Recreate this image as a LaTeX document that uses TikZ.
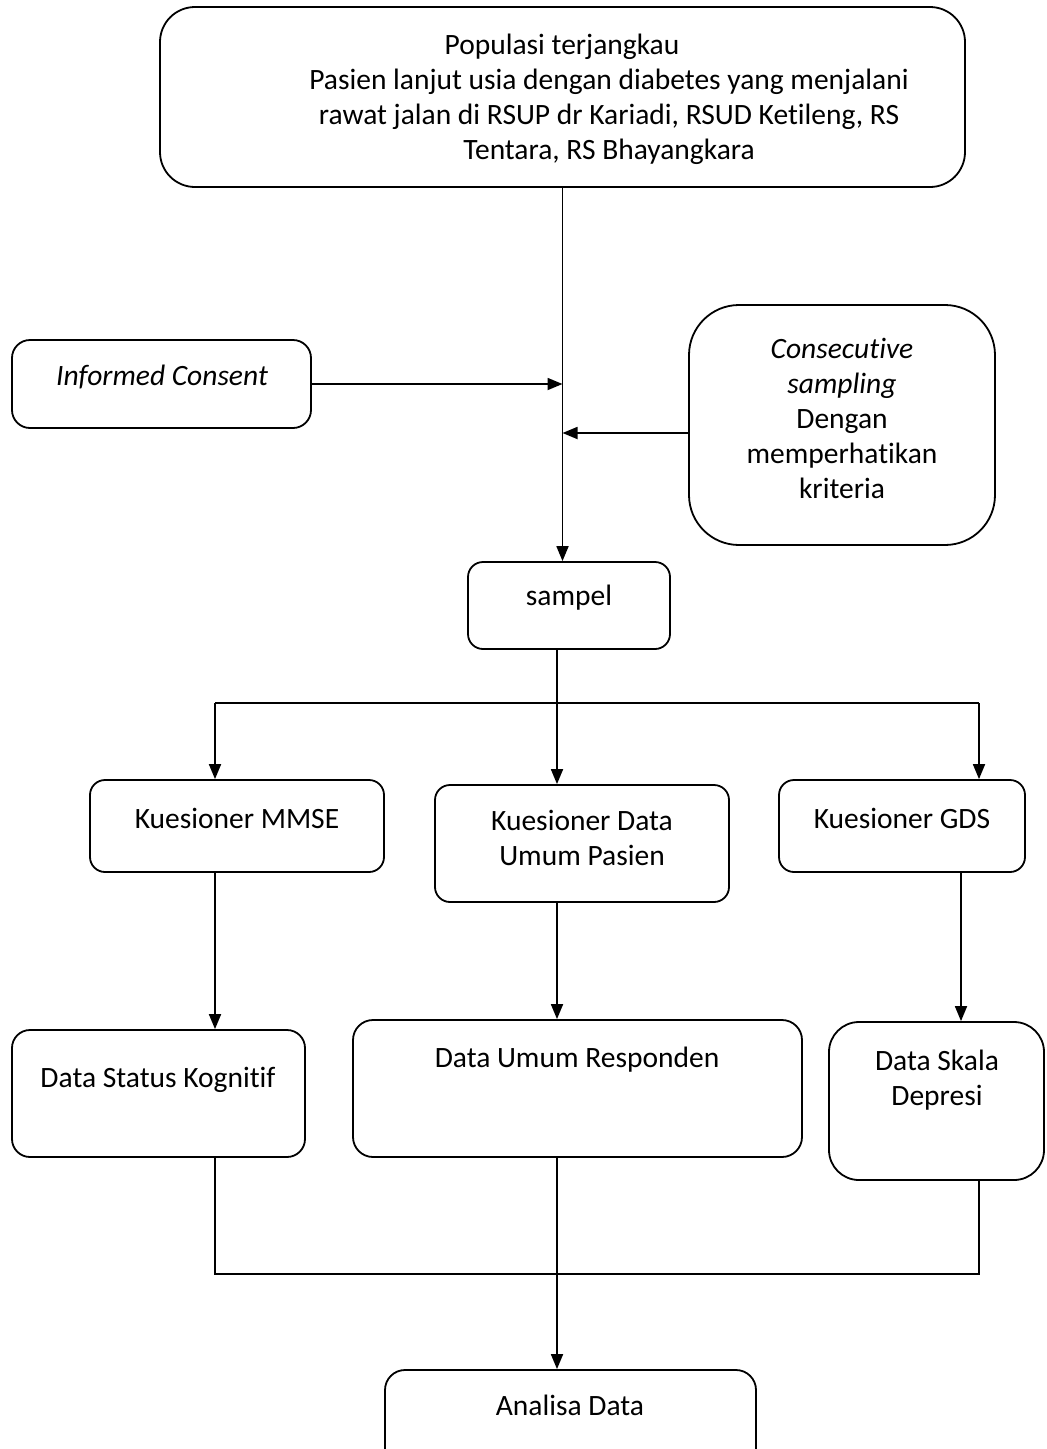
\documentclass[tikz,border=0pt]{standalone}
\usepackage{fontspec}
\setmainfont{Carlito}[Ligatures=CommonOff]
\usetikzlibrary{arrows.meta}
\begin{document}
\begin{tikzpicture}[x=1pt,y=-1pt,
  box/.style={draw, line width=1.8pt, rounded corners=#1, inner sep=0pt},
  txt/.style={font=\fontsize{29.5}{35}\selectfont, align=center, inner sep=0pt},
  arr/.style={line width=1.8pt, -{Triangle[length=15pt,width=12pt]}},
  ln/.style={line width=1.8pt}]
\useasboundingbox (0,0) rectangle (1047,1449);
% boxes
\node[box=35pt, minimum width=805pt, minimum height=180pt] (pop) at (562.5,97) {};
\node[box=18pt, minimum width=299pt, minimum height=88pt] (ic) at (161.5,384) {};
\node[box=50pt, minimum width=306pt, minimum height=240pt] (cs) at (842,425) {};
\node[box=15pt, minimum width=202pt, minimum height=87pt] (samp) at (569,605.5) {};
\node[box=15pt, minimum width=294pt, minimum height=92pt] (mmse) at (237,826) {};
\node[box=15pt, minimum width=294pt, minimum height=117pt] (dup) at (582,843.5) {};
\node[box=15pt, minimum width=246pt, minimum height=92pt] (gds) at (902,826) {};
\node[box=18pt, minimum width=293pt, minimum height=127pt] (dsk) at (158.5,1093.5) {};
\node[box=20pt, minimum width=449pt, minimum height=137pt] (dur) at (577.5,1088.5) {};
\node[box=30pt, minimum width=215pt, minimum height=158pt] (dsd) at (936.5,1101) {};
\node[box=20pt, minimum width=371pt, minimum height=110pt] (ana) at (570.5,1425) {};
% texts
\node[txt] (popt) at (609,99) {\hspace*{-94pt}Populasi terjangkau\\Pasien lanjut usia dengan diabetes yang menjalani\\rawat jalan di RSUP dr Kariadi, RSUD Ketileng, RS\\Tentara, RS Bhayangkara};
\node[txt] (ict) at (162,377) {\itshape Informed Consent};
\node[txt] (cst) at (842,418) {\itshape Consecutive\\\itshape sampling\\Dengan\\memperhatikan\\kriteria};
\node[txt] (sampt) at (569,598) {sampel};
\node[txt] (mmset) at (237,818) {Kuesioner MMSE};
\node[txt] (dupt) at (582,838) {Kuesioner Data\\Umum Pasien};
\node[txt] (gdst) at (902,818) {Kuesioner GDS};
\node[txt] (dskt) at (158,1080) {Data Status Kognitif};
\node[txt] (durt) at (577,1060) {Data Umum Responden};
\node[txt] (dsdt) at (937,1080) {Data Skala\\Depresi};
\node[txt] (anat) at (570,1405) {Analisa Data};
% helper coordinates
\coordinate (split) at (557,703);
\coordinate (hl) at (215,703);
\coordinate (hr) at (979,703);
\coordinate (gx) at (961,0);
\coordinate (jl) at (215,1274);
\coordinate (jr) at (979,1274);
% connectors
\draw[arr] (pop.south) -- (pop.south |- samp.north);
\draw[arr] (ic.east) -- (ic.east -| pop.south);
\draw[arr] ([yshift=-8pt]cs.west) -- ([yshift=-8pt]cs.west -| pop.south);
\draw[ln] (split |- samp.south) -- (split);
\draw[ln] (hl) -- (hr);
\draw[arr] (hl) -- (hl |- mmse.north);
\draw[arr] (split) -- (split |- dup.north);
\draw[arr] (hr) -- (hr |- gds.north);
\draw[arr] (hl |- mmse.south) -- (hl |- dsk.north);
\draw[arr] (split |- dup.south) -- (split |- dur.north);
\draw[arr] (gx |- gds.south) -- (gx |- dsd.north);
\draw[ln] (jl |- dsk.south) -- (jl) -- (jr) -- (jr |- dsd.south);
\draw[arr] (split |- dur.south) -- (split |- ana.north);
\end{tikzpicture}
\end{document}
